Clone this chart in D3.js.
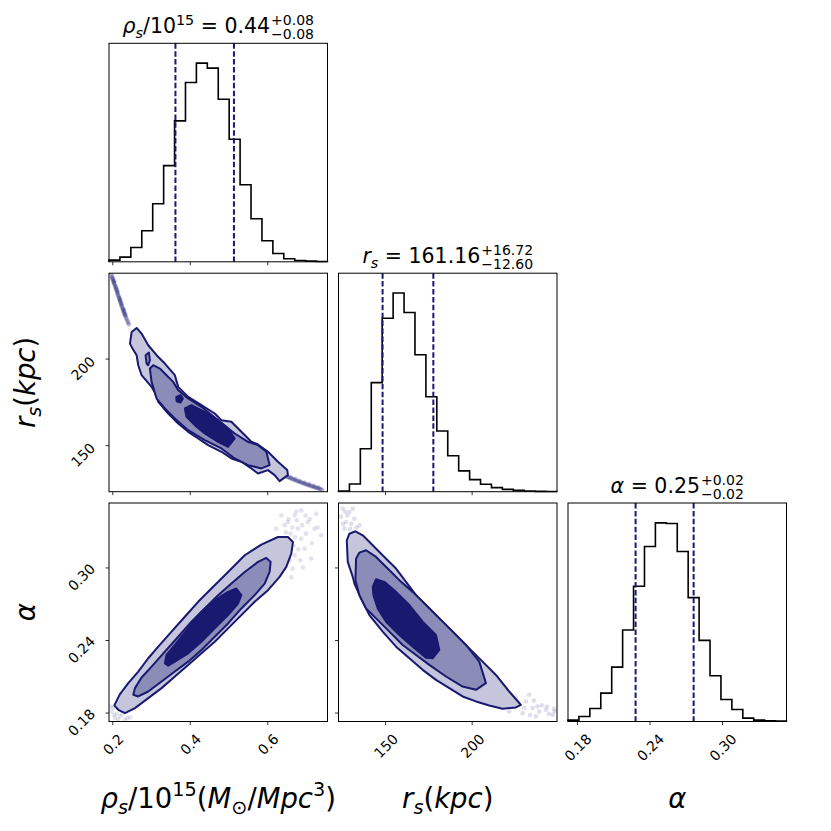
<!DOCTYPE html>
<html>
<head>
<meta charset="utf-8">
<script src="https://cdn.jsdelivr.net/npm/d3@7"></script>
<style>
body { margin: 0; background: #fff; }
text { font-family: "DejaVu Sans", sans-serif; }
</style>
</head>
<body>
<svg width="831" height="831"></svg>
<script>
// ranges of the three parameters
var rhoDomain = [0.1915, 0.7555];
var rsDomain = [123.1, 249.3];
var alphaDomain = [0.1726, 0.3533];

var rhoTicks = [0.2, 0.4, 0.6];
var rsTicks = [150, 200];
var alphaTicks = [0.18, 0.24, 0.30];

// 1D histograms, 20 bins each (relative counts)
var rhoHist = [5, 14, 43, 93, 174, 288, 422, 537, 595, 580, 487, 367, 231, 129, 63, 25, 9, 4, 2, 1];
var rsHist = [2, 23, 128, 325, 517, 592, 534, 408, 283, 181, 107, 62, 36, 22, 12, 7, 4, 2, 1, 0.5];
var alphaHist = [4, 15, 39, 85, 163, 274, 405, 524, 595, 593, 509, 371, 243, 137, 66, 36, 10, 4, 2, 1];

// 16th / 84th percentiles
var rhoQuant = [0.363, 0.514];
var rsQuant = [148.56, 177.88];
var alphaQuant = [0.2285, 0.2765];

// title values: median, +err, -err
var rhoTitle = ['0.44', '+0.08', '\u22120.08'];
var rsTitle = ['161.16', '+16.72', '\u221212.60'];
var alphaTitle = ['0.25', '+0.02', '\u22120.02'];

// contours rho vs r_s
var rhoRsOuter = [[0.2456,208.65],[0.2499,215.38],[0.2628,217.69],[0.2756,214.42],[0.2928,207.69],[0.3143,201.92],[0.3357,197.12],[0.3615,190.38],[0.3701,183.65],[0.3958,177.88],[0.4302,173.08],[0.4645,168.27],[0.4817,164.42],[0.5074,163.46],[0.5332,157.69],[0.5589,151.92],[0.5761,150.38],[0.6019,146.15],[0.6276,140.38],[0.6516,135.58],[0.6534,132.69],[0.6319,129.23],[0.6190,132.69],[0.6019,135.58],[0.5761,133.65],[0.5589,136.54],[0.5332,140.38],[0.5074,142.31],[0.4817,146.15],[0.4473,150.00],[0.4216,153.85],[0.3958,157.69],[0.3701,162.50],[0.3443,168.27],[0.3186,175.00],[0.3143,178.85],[0.3014,183.65],[0.2756,190.38],[0.2670,196.15],[0.2628,201.92],[0.2499,206.73]];
var rhoRsMid = [[0.2971,194.23],[0.3057,196.15],[0.3229,194.23],[0.3400,190.38],[0.3572,186.54],[0.3701,181.73],[0.3958,176.92],[0.4302,172.12],[0.4731,164.42],[0.5160,156.73],[0.5504,151.92],[0.5761,150.00],[0.5976,146.15],[0.6061,138.46],[0.5847,136.54],[0.5504,138.46],[0.5160,142.31],[0.4817,148.08],[0.4387,152.88],[0.3958,158.65],[0.3615,165.38],[0.3357,171.15],[0.3143,176.92],[0.3014,186.54]];
var rhoRsLoop = [[0.2859,201.92],[0.2945,203.46],[0.2971,199.04],[0.2928,196.15],[0.2885,197.12]];
var rhoRsInner = [[0.3873,171.15],[0.4044,173.08],[0.4387,169.23],[0.4731,164.42],[0.4988,159.62],[0.5160,153.85],[0.4988,149.04],[0.4731,151.92],[0.4387,156.73],[0.4130,161.54],[0.3915,166.35]];
var rhoRsBlob = [[0.3651,177.88],[0.3762,178.85],[0.3822,176.92],[0.3762,174.62],[0.3661,175.38]];
var rhoRsPoints = [[0.198,248.5],[0.199,247.6],[0.200,247],[0.201,246.2],[0.202,245.5],[0.203,244.8],[0.204,244.2],[0.205,243.4],[0.206,242.8],[0.207,242.0],[0.208,241.5],[0.209,240.6],[0.210,240],[0.211,239.4],[0.212,238.6],[0.213,237.8],[0.214,237.2],[0.215,236.6],[0.216,236],[0.217,235.2],[0.218,234.6],[0.219,233.8],[0.220,233.2],[0.221,232.6],[0.222,232],[0.223,231.2],[0.224,230.6],[0.225,230.0],[0.226,229.4],[0.227,228.6],[0.228,228],[0.229,227.5],[0.230,226.8],[0.231,226.2],[0.232,225.6],[0.233,225.0],[0.234,224.4],[0.2355,223.6],[0.237,222.8],[0.2385,222.0],[0.240,221.2],[0.2415,220.4],[0.243,219.6],
  [0.200,246.0],[0.205,244.6],[0.209,241.6],[0.214,238.4],[0.219,235.0],[0.224,231.6],[0.229,228.6],[0.234,225.4],[0.203,243.8],[0.212,239.8],[0.221,233.6],[0.231,227.4],
  [0.649,131.9],[0.652,131.6],[0.655,131.3],[0.658,131.0],[0.661,130.8],[0.664,130.5],[0.667,130.2],[0.670,130.0],[0.673,129.7],[0.676,129.4],[0.679,129.1],[0.682,128.9],[0.685,128.6],[0.688,128.4],[0.691,128.1],[0.694,127.9],[0.697,127.6],[0.700,127.4],[0.703,127.1],[0.706,126.9],[0.709,126.7],[0.712,126.5],[0.715,126.2],[0.718,126.0],[0.721,125.8],[0.724,125.6],[0.727,125.3],[0.730,125.1],[0.733,124.9],[0.736,124.7],[0.739,124.4],[0.742,124.2],
  [0.660,131.6],[0.672,130.6],[0.684,129.4],[0.696,128.4],[0.708,127.5],[0.720,126.6],[0.732,125.7]];

// contours rho vs alpha
var rhoAlphaOuter = [[0.2052,0.1859],[0.2198,0.1952],[0.2413,0.2043],[0.2670,0.2139],[0.2928,0.2249],[0.3186,0.2345],[0.3529,0.2469],[0.3872,0.2592],[0.4216,0.2716],[0.4559,0.2826],[0.4988,0.2963],[0.5418,0.3101],[0.5847,0.3189],[0.6276,0.3252],[0.6534,0.3252],[0.6663,0.3211],[0.6620,0.3114],[0.6491,0.3005],[0.6319,0.2922],[0.6019,0.2812],[0.5675,0.2716],[0.5332,0.2606],[0.4988,0.2496],[0.4645,0.2386],[0.4302,0.2290],[0.3958,0.2194],[0.3615,0.2098],[0.3272,0.2002],[0.2928,0.1919],[0.2585,0.1837],[0.2327,0.1795],[0.2155,0.1823]];
var rhoAlphaMid = [[0.2542,0.1947],[0.2585,0.2002],[0.2756,0.2090],[0.3014,0.2180],[0.3357,0.2304],[0.3701,0.2427],[0.4044,0.2551],[0.4387,0.2661],[0.4731,0.2771],[0.5074,0.2867],[0.5418,0.2963],[0.5761,0.3046],[0.5976,0.3079],[0.6087,0.3046],[0.6061,0.2963],[0.5933,0.2867],[0.5675,0.2771],[0.5332,0.2661],[0.4988,0.2537],[0.4645,0.2427],[0.4302,0.2318],[0.3958,0.2221],[0.3615,0.2139],[0.3272,0.2057],[0.2928,0.1974],[0.2670,0.1933]];
var rhoAlphaInner = [[0.3357,0.2208],[0.3400,0.2276],[0.3615,0.2359],[0.3958,0.2496],[0.4302,0.2634],[0.4645,0.2730],[0.4988,0.2798],[0.5203,0.2826],[0.5331,0.2771],[0.5246,0.2702],[0.4988,0.2606],[0.4645,0.2496],[0.4302,0.2386],[0.3958,0.2290],[0.3615,0.2221],[0.3443,0.2188]];
var rhoAlphaPoints = [[0.6705,0.3430],[0.6877,0.3472],[0.7048,0.3376],[0.7220,0.3321],[0.7392,0.3266],[0.6791,0.3321],[0.6963,0.3156],[0.7134,0.3073],[0.6619,0.2918],[0.6362,0.3430],[0.6533,0.3376],[0.6877,0.3238],[0.6233,0.3321],[0.6705,0.3101],[0.7263,0.3444],[0.6650,0.3330],[0.6760,0.3390],[0.6450,0.3350],[0.7000,0.3280],[0.6850,0.3060],
  [0.6600,0.3280],[0.6720,0.3250],[0.6680,0.3180],[0.6800,0.3150],[0.6580,0.3060],[0.6900,0.3350],[0.7100,0.3400],[0.6550,0.3400],[0.6750,0.3460],[0.7150,0.3200],[0.6920,0.3000],[0.6650,0.2990],[0.6480,0.3290],[0.7300,0.3330],[0.6990,0.3430],
  [0.1984,0.1809],[0.2070,0.1754],[0.2198,0.1768],[0.2327,0.1740],[0.2027,0.1837],[0.2456,0.1760],[0.2110,0.1790],[0.1960,0.1850],[0.2250,0.1785],[0.2040,0.1780],[0.2150,0.1745],[0.2380,0.1755]];

// contours r_s vs alpha
var rsAlphaOuter = [[127.87,0.3224],[129.40,0.3279],[132.87,0.3299],[137.10,0.3266],[142.87,0.3183],[149.60,0.3087],[156.33,0.2991],[162.10,0.2881],[167.87,0.2771],[175.56,0.2661],[183.25,0.2551],[190.94,0.2441],[198.63,0.2331],[206.33,0.2221],[214.02,0.2111],[221.71,0.1974],[228.44,0.1864],[225.56,0.1842],[217.87,0.1831],[210.17,0.1859],[202.48,0.1892],[194.79,0.1933],[187.10,0.2002],[179.40,0.2070],[171.71,0.2153],[164.02,0.2249],[156.33,0.2345],[148.63,0.2469],[140.94,0.2606],[136.13,0.2743],[132.29,0.2867],[131.33,0.2922],[128.44,0.3046]];
var rsAlphaMid = [[133.25,0.3073],[135.17,0.3123],[139.02,0.3142],[144.79,0.3087],[151.52,0.2991],[158.25,0.2895],[165.94,0.2798],[173.63,0.2689],[181.33,0.2579],[189.02,0.2469],[196.71,0.2359],[204.40,0.2221],[208.25,0.2043],[202.48,0.1988],[194.79,0.2015],[185.17,0.2098],[175.56,0.2194],[167.87,0.2276],[160.17,0.2359],[152.48,0.2469],[144.79,0.2579],[139.02,0.2661],[135.17,0.2771],[132.87,0.2895]];
var rsAlphaInner = [[142.87,0.2840],[144.79,0.2903],[149.60,0.2881],[156.33,0.2798],[164.02,0.2689],[171.71,0.2551],[179.40,0.2441],[181.33,0.2318],[177.48,0.2249],[173.63,0.2254],[165.94,0.2345],[158.25,0.2441],[150.56,0.2551],[145.75,0.2661],[143.25,0.2771]];
var rsAlphaPoints = [[125.56,0.3485],[129.40,0.3458],[132.29,0.3403],[127.50,0.3376],[131.33,0.3485],[135.17,0.3348],[126.52,0.3321],[128.20,0.3430],[130.50,0.3360],[124.50,0.3420],[127.00,0.3460],[133.50,0.3330],[129.80,0.3320],[125.80,0.3360],
  [231.33,0.1892],[235.17,0.1837],[239.02,0.1809],[242.87,0.1823],[246.71,0.1782],[248.00,0.1809],[233.25,0.1947],[225.56,0.1919],[237.10,0.1768],[221.71,0.1809],[229.40,0.1795],[240.50,0.1860],[244.50,0.1790],[236.00,0.1900],[230.50,0.1840],[227.00,0.1880],[238.00,0.1850],[233.80,0.1780],[243.50,0.1850],[247.50,0.1830]];

var navy = '#191970';
var fills = ['#c5c5db', '#8c8cb8', navy];

var svg = d3.select('svg');
var size = 218.5;
var colX = [109, 338.5, 568];
var rowY = [43.3, 273.2, 503];
var tickFs = 14;

function scaleX(domain) { return d3.scaleLinear().domain(domain).range([0, size]); }
function scaleY(domain) { return d3.scaleLinear().domain(domain).range([size, 0]); }

// writes mixed italic / sub / sup parts into a text element
function rich(sel, parts, fs) {
  var shift = 0;
  parts.forEach(function(p) {
    var s = p.sub ? fs * 0.22 : (p.sup ? -fs * 0.42 : 0);
    sel.append('tspan')
      .attr('dy', s - shift)
      .style('font-size', ((p.sub || p.sup) ? fs * 0.7 : fs) + 'px')
      .style('font-style', p.it ? 'italic' : 'normal')
      .text(p.t);
    shift = s;
  });
  return shift;
}

function panel(r, c) {
  return svg.append('g').attr('transform', 'translate(' + colX[c] + ',' + rowY[r] + ')');
}

function frame(g) {
  g.append('rect').attr('width', size).attr('height', size)
    .attr('fill', 'none').attr('stroke', '#000').attr('stroke-width', 1);
}

function xAxis(g, scale, ticks, fmt) {
  var ax = g.append('g').attr('transform', 'translate(0,' + size + ')')
    .call(d3.axisBottom(scale).tickValues(ticks).tickSize(3.5).tickFormat(fmt ? d3.format(fmt) : ''));
  ax.select('.domain').remove();
  ax.attr('font-size', tickFs);
  ax.selectAll('line').attr('stroke', '#000').attr('stroke-width', 0.8);
  if (fmt) {
    ax.selectAll('text').each(function() {
      var t = d3.select(this);
      t.attr('x', 0).attr('y', 0).attr('dy', 0).attr('text-anchor', 'end').attr('fill', '#000')
        .style('font-size', tickFs + 'px').style('font-family', 'DejaVu Sans');
      var w = this.getComputedTextLength();
      var bw = (w + tickFs * 0.8) / Math.SQRT2;
      t.attr('transform', 'translate(' + (bw / 2) + ',' + 18.5 + ') rotate(-45)');
    });
  }
}

function yAxis(g, scale, ticks, fmt) {
  var ax = g.append('g')
    .call(d3.axisLeft(scale).tickValues(ticks).tickSize(3.5).tickFormat(fmt ? d3.format(fmt) : ''));
  ax.select('.domain').remove();
  ax.attr('font-size', tickFs);
  ax.selectAll('line').attr('stroke', '#000').attr('stroke-width', 0.8);
  if (fmt) {
    ax.selectAll('text').each(function() {
      var t = d3.select(this);
      t.attr('x', 0).attr('y', 0).attr('dy', 0).attr('text-anchor', 'end').attr('fill', '#000')
        .style('font-size', tickFs + 'px').style('font-family', 'DejaVu Sans');
      var w = this.getComputedTextLength();
      var bh = (w + tickFs * 0.8) / Math.SQRT2;
      t.attr('transform', 'translate(-13,' + (10 - bh / 2 + 6.8) + ') rotate(-45)');
    });
  }
}

// title with stacked +/- errors, all in one text element
function title(c, r, parts, vals) {
  var fs = 20.5, sfs = 14;
  var t = svg.append('text').attr('x', 0).attr('y', 0);
  var shift = rich(t, parts.concat([{t: ' = ' + vals[0]}]), fs);
  var w = t.node().getComputedTextLength();
  t.append('tspan').attr('x', w + 1).attr('dy', -8.5 - shift).style('font-size', sfs + 'px').text(vals[1]);
  t.append('tspan').attr('x', w + 1).attr('dy', 14.5).style('font-size', sfs + 'px').text(vals[2]);
  var total = t.node().getBBox().width;
  t.attr('transform', 'translate(' + (colX[c] + size / 2 - total / 2) + ',' + (rowY[r] - 10) + ')');
}

function hist(i, counts, domain, ticks, quant, fmt) {
  var g = panel(i, i);
  var x = scaleX(domain);
  var y = scaleY([0, d3.max(counts) * 1.1]);
  var step = (domain[1] - domain[0]) / counts.length;
  var pts = [[domain[0], 0]];
  counts.forEach(function(n, k) {
    pts.push([domain[0] + k * step, n], [domain[0] + (k + 1) * step, n]);
  });
  pts.push([domain[1], 0]);
  g.append('path').datum(pts)
    .attr('d', d3.line().x(function(d) { return x(d[0]); }).y(function(d) { return y(d[1]); }))
    .attr('fill', 'none').attr('stroke', '#000').attr('stroke-width', 1.6);
  g.selectAll('line.q').data(quant).enter().append('line')
    .attr('class', 'q')
    .attr('x1', function(d) { return x(d); }).attr('x2', function(d) { return x(d); })
    .attr('y1', 0).attr('y2', size)
    .attr('stroke', navy).attr('stroke-width', 2).attr('stroke-dasharray', '5.5,2.4');
  frame(g);
  xAxis(g, x, ticks, fmt);
}

function corner2d(r, c, xd, yd, layers, points, ptOpacity, xt, yt, xfmt, yfmt) {
  var g = panel(r, c);
  var x = scaleX(xd);
  var y = scaleY(yd);
  var id = 'clip' + r + c;
  g.append('clipPath').attr('id', id).append('rect').attr('width', size).attr('height', size);
  var inner = g.append('g').attr('clip-path', 'url(#' + id + ')');
  inner.selectAll('circle').data(points).enter().append('circle')
    .attr('cx', function(d) { return x(d[0]); })
    .attr('cy', function(d) { return y(d[1]); })
    .attr('r', 2.3).attr('fill', navy).attr('fill-opacity', ptOpacity);
  var line = d3.line().x(function(d) { return x(d[0]); }).y(function(d) { return y(d[1]); })
    .curve(d3.curveLinearClosed);
  layers.forEach(function(l) {
    inner.append('path').datum(l[0]).attr('d', line)
      .attr('fill', l[1]).attr('stroke', navy).attr('stroke-width', 2)
      .attr('stroke-linejoin', 'round');
  });
  frame(g);
  xAxis(g, x, xt, xfmt);
  yAxis(g, y, yt, yfmt);
}

var rhoParts = [{t: '\u03c1', it: 1}, {t: 's', it: 1, sub: 1}, {t: '/10'}, {t: '15', sup: 1}];
var rsParts = [{t: 'r', it: 1}, {t: 's', it: 1, sub: 1}];
var alphaParts = [{t: '\u03b1', it: 1}];

hist(0, rhoHist, rhoDomain, rhoTicks, rhoQuant, null);
hist(1, rsHist, rsDomain, rsTicks, rsQuant, null);
hist(2, alphaHist, alphaDomain, alphaTicks, alphaQuant, '.2f');

title(0, 0, rhoParts, rhoTitle);
title(1, 1, rsParts, rsTitle);
title(2, 2, alphaParts, alphaTitle);

corner2d(1, 0, rhoDomain, rsDomain,
  [[rhoRsOuter, fills[0]], [rhoRsLoop, fills[1]], [rhoRsMid, fills[1]], [rhoRsInner, fills[2]], [rhoRsBlob, fills[2]]],
  rhoRsPoints, 0.22, rhoTicks, rsTicks, null, 'd');
corner2d(2, 0, rhoDomain, alphaDomain,
  [[rhoAlphaOuter, fills[0]], [rhoAlphaMid, fills[1]], [rhoAlphaInner, fills[2]]],
  rhoAlphaPoints, 0.12, rhoTicks, alphaTicks, '.1f', '.2f');
corner2d(2, 1, rsDomain, alphaDomain,
  [[rsAlphaOuter, fills[0]], [rsAlphaMid, fills[1]], [rsAlphaInner, fills[2]]],
  rsAlphaPoints, 0.14, rsTicks, alphaTicks, 'd', null);

// axis labels
var labFs = 27.5;
var xLabels = [
  rhoParts.concat([{t: '('}, {t: 'M', it: 1}, {t: '\u2299', sub: 1}, {t: '/'}, {t: 'Mpc', it: 1}, {t: '3', sup: 1}, {t: ')'}]),
  rsParts.concat([{t: '('}, {t: 'kpc', it: 1}, {t: ')'}]),
  alphaParts
];
xLabels.forEach(function(p, i) {
  var t = svg.append('text').attr('x', colX[i] + size / 2).attr('y', 808).attr('text-anchor', 'middle');
  rich(t, p, labFs);
});
[xLabels[1], xLabels[2]].forEach(function(p, i) {
  var t = svg.append('text').attr('text-anchor', 'middle')
    .attr('transform', 'translate(35,' + (rowY[i + 1] + size / 2) + ') rotate(-90)');
  rich(t, p, labFs);
});
</script>
</body>
</html>
